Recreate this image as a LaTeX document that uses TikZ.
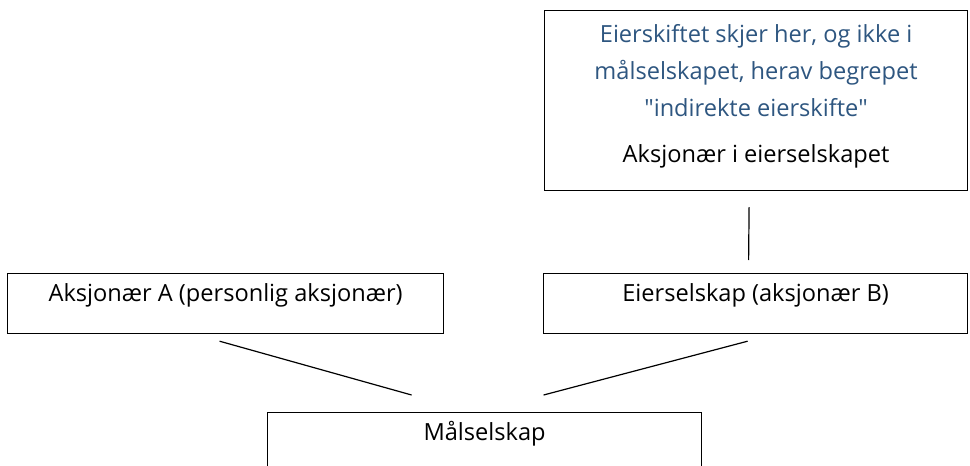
\documentclass[tikz,border=0pt]{standalone}
\usepackage{fontspec}
\setmainfont{Open Sans}
\usepackage{tikz}
\usetikzlibrary{calc}
\definecolor{eierblue}{RGB}{46,86,128}

\begin{document}
\begin{tikzpicture}[x=1pt,y=-1pt,
  boks/.style={draw,line width=1.2pt,inner xsep=0pt,inner ysep=0pt,anchor=north west,
    font=\fontsize{23.6}{37}\selectfont},
  strek/.style={line width=1.2pt}]
\useasboundingbox (0,0) rectangle (970,466);
% boksene
\node[boks,minimum width=423pt,minimum height=180pt,align=center] (eier) at (544,10)
  {\color{eierblue}Eierskiftet skjer her, og ikke i\\
   \color{eierblue}målselskapet, herav begrepet\\
   \color{eierblue}\textquotedbl indirekte eierskifte\textquotedbl\\[9pt]
   Aksjonær i eierselskapet\\[-23pt]};
\node[boks,minimum width=436pt,text height=28pt,text depth=32pt] (aksA) at (7,273) {Aksjonær A (personlig aksjonær)};
\node[boks,minimum width=424pt,text height=28pt,text depth=32pt] (aksB) at (543,273) {Eierselskap (aksjonær B)};
\node[boks,minimum width=434pt,text height=28pt,text depth=80pt] (maal) at (267,412) {Målselskap};
% strekene
\draw[strek] ($(eier.south)+(-7,16)$) -- ($(aksB.north)+(-7,-13)$);
\draw[strek] ($(aksA.south)+(-6,7)$) -- ($(maal.north)+(-73,-17)$);
\draw[strek] ($(aksB.south)+(-8,7)$) -- ($(maal.north)+(59,-17)$);
\end{tikzpicture}
\end{document}
